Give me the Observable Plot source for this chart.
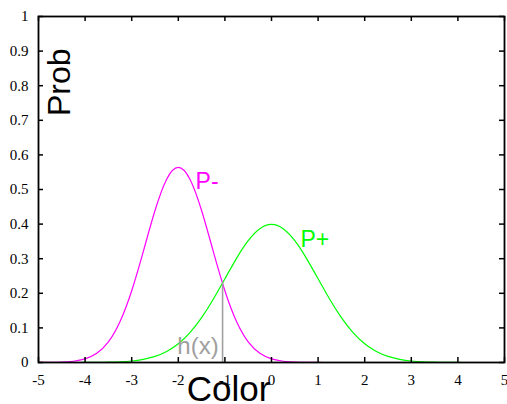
<!DOCTYPE html>
<html>
<head>
<meta charset="utf-8">
<script src="https://cdn.jsdelivr.net/npm/d3@7"></script>
<script src="https://cdn.jsdelivr.net/npm/@observablehq/plot@0.6"></script>
<style>
  html, body { margin: 0; padding: 0; background: #fff; }
</style>
</head>
<body>
<div id="chart"></div>
<script>
const xs = [-5,-4.75,-4.5,-4.25,-4,-3.75,-3.5,-3.25,-3,-2.75,-2.5,-2.25,-2,-1.75,-1.5,-1.25,-1,-0.75,-0.5,-0.25,0,0.25,0.5,0.75,1,1.25,1.5,1.75,2,2.25,2.5,2.75,3,3.25,3.5,3.75,4,4.25,4.5,4.75,5];
const pMinus = [0.0001,0.0003,0.0011,0.0036,0.0103,0.0264,0.0594,0.1182,0.2075,0.3214,0.4392,0.5298,0.564,0.5298,0.4392,0.3214,0.2075,0.1182,0.0594,0.0264,0.0103,0.0036,0.0011,0.0003,0.0001,0,0,0,0,0,0,0,0,0,0,0,0,0,0,0,0];
const pPlus = [0,0,0,0,0.0001,0.0004,0.0009,0.0020,0.0044,0.0091,0.0175,0.0317,0.0540,0.0863,0.1295,0.1827,0.2420,0.3011,0.3521,0.3867,0.399,0.3867,0.3521,0.3011,0.2420,0.1827,0.1295,0.0863,0.0540,0.0317,0.0175,0.0091,0.0044,0.0020,0.0009,0.0004,0.0001,0,0,0,0];
const xTicks = [-5,-4,-3,-2,-1,0,1,2,3,4,5];
const yTicks = [0,0.1,0.2,0.3,0.4,0.5,0.6,0.7,0.8,0.9,1];
const crossX = -1.05;
const crossY = 0.23;
const labelNames = ["P-", "P+"];
const labelX = [-1.63, 0.62];
const labelY = [0.523, 0.355];
const labelColors = ["#ff00ff", "#00ff00"];
const hLabel = "h(x)";
const hX = -2.02;
const hY = 0.046;
const yTitle = "Prob";
const yTitleX = -4.55;
const yTitleY = 0.81;
const xTitle = "Color";

const minusData = xs.map((x, i) => ({x, y: pMinus[i]}));
const plusData = xs.map((x, i) => ({x, y: pPlus[i]}));
const labels = labelNames.map((t, i) => ({t, x: labelX[i], y: labelY[i], c: labelColors[i]}));

const W = 507, H = 404, ML = 38, MR = 3, MT = 16, MB = 42;
const FW = W - ML - MR, FH = H - MT - MB, TK = 5;
const SERIF = "'Liberation Serif', 'Times New Roman', 'DejaVu Serif', serif";
const SANS = "'Liberation Sans', Arial, 'DejaVu Sans', sans-serif";

const chart = Plot.plot({
  width: W,
  height: H,
  marginLeft: ML,
  marginRight: MR,
  marginTop: MT,
  marginBottom: MB,
  style: {fontFamily: SERIF, fontSize: "14px", color: "black", background: "white"},
  x: {domain: [-5, 5], axis: null},
  y: {domain: [0, 1], axis: null},
  marks: [
    Plot.line(minusData, {x: "x", y: "y", stroke: "#ff00ff", strokeWidth: 1.2, curve: "natural"}),
    Plot.line(plusData, {x: "x", y: "y", stroke: "#00ff00", strokeWidth: 1.2, curve: "natural"}),
    Plot.ruleX([crossX], {y1: 0, y2: crossY, stroke: "#a0a0a0", strokeWidth: 1.6}),
    // inward ticks on all four sides
    Plot.ruleX(xTicks, {x: d => d, insetTop: FH - TK, stroke: "black", strokeWidth: 1.5}),
    Plot.ruleX(xTicks, {x: d => d, insetBottom: FH - TK, stroke: "black", strokeWidth: 1.5}),
    Plot.ruleY(yTicks, {y: d => d, insetRight: FW - TK, stroke: "black", strokeWidth: 1.5}),
    Plot.ruleY(yTicks, {y: d => d, insetLeft: FW - TK, stroke: "black", strokeWidth: 1.5}),
    Plot.frame({stroke: "black", strokeWidth: 1.8}),
    // tick labels
    Plot.text(xTicks, {x: d => d, frameAnchor: "bottom", dy: 18, text: d => String(d), fill: "black", fontFamily: SERIF, fontSize: 15, lineAnchor: "middle", textAnchor: "middle"}),
    Plot.text(yTicks, {y: d => d, frameAnchor: "left", dx: -10, text: d => String(d), fill: "black", fontFamily: SERIF, fontSize: 15, lineAnchor: "middle", textAnchor: "end"}),
    // annotations
    Plot.text(labels, {x: "x", y: "y", text: "t", fill: "c", textAnchor: "start", lineAnchor: "middle", fontSize: 23, fontFamily: SANS}),
    Plot.text([hLabel], {x: () => hX, y: () => hY, text: d => d, fill: "#a0a0a0", textAnchor: "start", lineAnchor: "middle", fontSize: 24, fontFamily: SANS}),
    Plot.text([yTitle], {x: () => yTitleX, y: () => yTitleY, rotate: -90, text: d => d, fill: "black", fontSize: 32, fontFamily: SANS, textAnchor: "middle", lineAnchor: "middle"}),
    Plot.text([xTitle], {frameAnchor: "bottom", dx: -43, dy: 27, text: d => d, fill: "black", fontSize: 35, fontFamily: SANS, lineAnchor: "middle"})
  ]
});
document.getElementById("chart").appendChild(chart);
</script>
</body>
</html>
